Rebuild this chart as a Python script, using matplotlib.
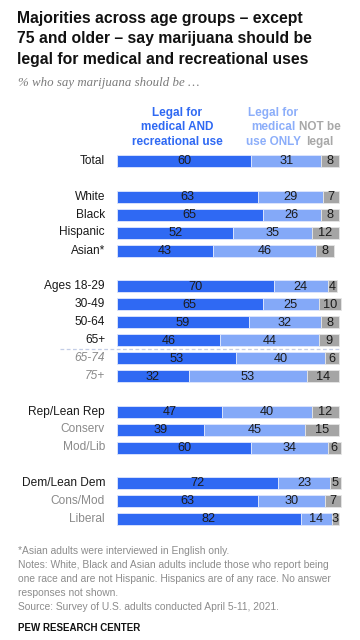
import matplotlib
matplotlib.use("Agg")
import matplotlib.pyplot as plt
import matplotlib.transforms as mtransforms

# ── data ──────────────────────────────────────────────────────────────────
categories = [
    "Total",
    "White", "Black", "Hispanic", "Asian*",
    "Ages 18-29", "30-49", "50-64", "65+", "65-74", "75+",
    "Rep/Lean Rep", "Conserv", "Mod/Lib",
    "Dem/Lean Dem", "Cons/Mod", "Liberal",
]
both = [60, 63, 65, 52, 43, 70, 65, 59, 46, 53, 32, 47, 39, 60, 72, 63, 82]
medical_only = [31, 29, 26, 35, 46, 24, 25, 32, 44, 40, 53, 40, 45, 34, 23, 30, 14]
not_legal = [8, 7, 8, 12, 8, 4, 10, 8, 9, 6, 14, 12, 15, 6, 5, 7, 3]
block_sizes = [1, 4, 6, 3, 3]
sub_rows = ["65-74", "75+", "Conserv", "Mod/Lib", "Cons/Mod", "Liberal"]
italic_rows = ["65-74", "75+"]

DARK = "#2f69f3"
LIGHT = "#84a9f8"
GREY = "#a5a5a5"

W, H = 360, 640
fig = plt.figure(figsize=(W / 100, H / 100), dpi=100)
fig.patch.set_facecolor("white")

# bar axes: x in percent (0 -> 117 px, 100 -> 341 px), y in pixel rows
px_per_pt = (341 - 117) / 100
ax = fig.add_axes([0, 0, 1, 1])
ax.set_xlim(-117 / px_per_pt, (W - 117) / px_per_pt)
ax.set_ylim(H, 0)
ax.axis("off")

# pixel transform for free text
px = mtransforms.Affine2D().scale(1 / W, -1 / H).translate(0, 1) + fig.transFigure

plt.rcParams["font.family"] = ["Liberation Sans", "DejaVu Sans"]

# row positions from block layout
ys = []
y = 161
for b in block_sizes:
    for _ in range(b):
        ys.append(y)
        y += 18
    y += 17.5

bh = 12
left2 = [a for a in both]
left3 = [a + b for a, b in zip(both, medical_only)]
ax.barh(ys, both, height=bh, color=DARK, edgecolor="#dfe7fd", linewidth=0.6)
ax.barh(ys, medical_only, left=left2, height=bh, color=LIGHT,
        edgecolor="#dfe7fd", linewidth=0.6)
ax.barh(ys, not_legal, left=left3, height=bh, color=GREY,
        edgecolor="#e6e6e6", linewidth=0.6)

vfs = 9.2
for yy, a, b, c in zip(ys, both, medical_only, not_legal):
    ax.text(a / 2, yy + 0.5, str(a), ha="center", va="center", fontsize=vfs, color="#1c1c1c")
    ax.text(a + b / 2, yy + 0.5, str(b), ha="center", va="center", fontsize=vfs, color="#1c1c1c")
    ax.text(a + b + c / 2, yy + 0.5, str(c), ha="center", va="center", fontsize=vfs, color="#1c1c1c")

for cat, yy in zip(categories, ys):
    sub = cat in sub_rows
    ax.text(105, yy, cat, transform=px, ha="right", va="center", fontsize=8.6,
            color="#8a8a8a" if sub else "#1a1a1a",
            style="italic" if cat in italic_rows else "normal")

# dashed separator between 65+ and its sub-rows
ysep = (ys[8] + ys[9]) / 2
ax.plot([60, 341], [ysep, ysep], transform=px, color="#c3cde6",
        lw=0.9, ls=(0, (3, 2)))

# column headers
hfs = 8.5
ax.text(177, 127.5, "Legal for\nmedical AND\nrecreational use", transform=px,
        ha="center", va="center", fontsize=hfs, fontweight="bold",
        color=DARK, linespacing=1.3)
ax.text(273, 127.5, "Legal for\nmedical\nuse ONLY", transform=px,
        ha="center", va="center", fontsize=hfs, fontweight="bold",
        color="#8caefa", linespacing=1.3)
ax.text(320, 134.5, "NOT be\nlegal", transform=px,
        ha="center", va="center", fontsize=hfs, fontweight="bold",
        color="#a8a8a8", linespacing=1.3)

# title & subtitle
ax.text(17, 39, "Majorities across age groups \u2013 except\n75 and older \u2013 say marijuana should be\n"
        "legal for medical and recreational uses", transform=px,
        ha="left", va="center", fontsize=11.3, fontweight="bold",
        color="#111111", linespacing=1.42)
ax.text(18, 83, "% who say marijuana should be \u2026", transform=px,
        ha="left", va="center", fontsize=9.3, style="italic",
        family=["Liberation Serif"], color="#7a7a7a")

# notes
notes = ("*Asian adults were interviewed in English only.\n"
         "Notes: White, Black and Asian adults include those who report being\n"
         "one race and are not Hispanic. Hispanics are of any race. No answer\n"
         "responses not shown.\n"
         "Source: Survey of U.S. adults conducted April 5-11, 2021.")
ax.text(18, 579, notes, transform=px, ha="left", va="center", fontsize=7.4,
        color="#8c8c8c", linespacing=1.52)
ax.text(18, 628, "PEW RESEARCH CENTER", transform=px, ha="left", va="center",
        fontsize=7.0, fontweight="bold", color="#111111")

fig.savefig("out.png", dpi=100, facecolor="white")
